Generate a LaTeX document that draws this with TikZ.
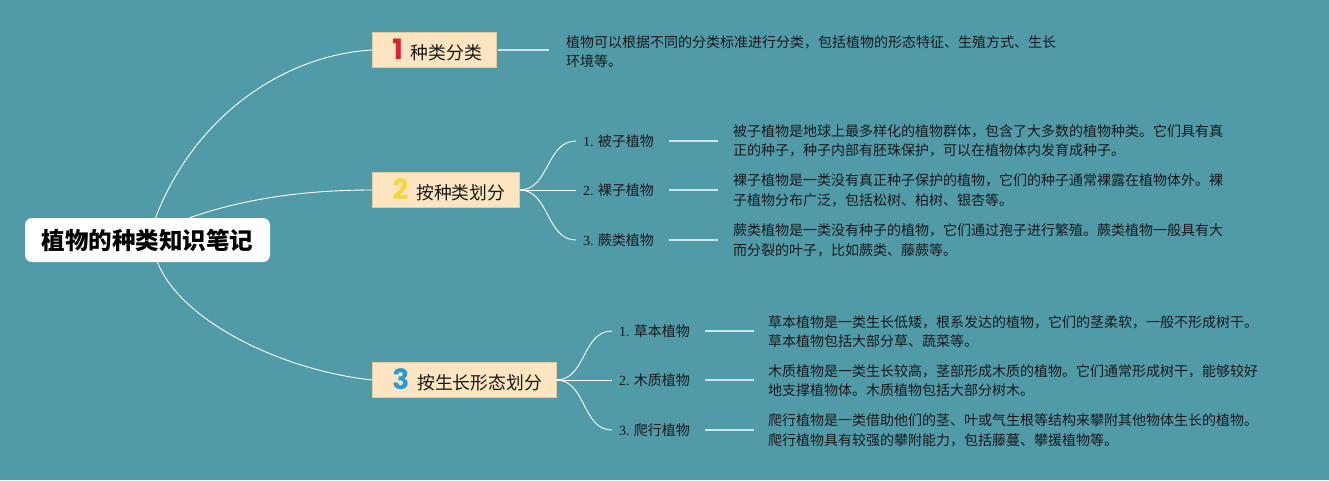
\documentclass[tikz,border=0pt]{standalone}
\usepackage{fontspec}
\setmainfont{Noto Sans CJK SC}
\newfontfamily\numfont{Liberation Serif}
\newfontfamily\digitfont{Poppins}
\usetikzlibrary{positioning, calc}
\definecolor{bg}{RGB}{81,155,169}
\definecolor{box}{RGB}{252,229,192}
\definecolor{boxline}{RGB}{228,203,158}
\definecolor{lead}{RGB}{205,230,236}
\definecolor{ink}{RGB}{25,25,25}
\definecolor{num-1}{RGB}{226,32,44}
\definecolor{num-2}{RGB}{245,215,60}
\definecolor{num-3}{RGB}{40,155,220}
\newcommand{\topiclabel}[3]{\hspace*{20pt}{\digitfont\bfseries\fontsize{28}{28}\selectfont\textcolor{#1}{#2}}\hspace{8pt}#3\hspace*{14pt}}

\begin{document}
\begin{tikzpicture}[x=1pt, y=-1pt]
      \tikzset{ root/.style ={fill=white, rounded corners=7pt, minimum width=245pt, minimum height=44pt, text=black, font=\fontsize{23.5}{23.5}\selectfont\bfseries} }
      \tikzset{ topic/.style={fill=box, draw=boxline, line width=0.6pt, anchor=west, minimum height=35pt, inner xsep=0pt, text=ink, font=\fontsize{17.8}{17.8}\selectfont} }
      \tikzset{ item/.style ={anchor=west, inner xsep=7pt, text=ink, font=\fontsize{14}{14}\selectfont} }
      \tikzset{ note/.style ={anchor=west, inner xsep=7pt, align=left, text=ink, font=\fontsize{14}{19.5}\selectfont} }
      \tikzset{ link/.style ={draw=white, line width=0.9pt} }
      \tikzset{ lead/.style ={draw=lead, line width=1.6pt} }

      \fill[bg] (0,0) rectangle (1329,480);
      \useasboundingbox (0,0) rectangle (1329,480);

      \node[root] (l0_n0) at (147.5, 240) {植物的种类知识笔记};

      \node[topic] (l1_n0) at (372,  50) {\topiclabel{num-1}{1}{种类分类}};
      \node[topic] (l1_n1) at (372, 190) {\topiclabel{num-2}{2}{按种类划分}};
      \node[topic] (l1_n2) at (372, 380) {\topiclabel{num-3}{3}{按生长形态划分}};

      \draw[link] ($(l0_n0.north)+(8,0)$)  .. controls (195,115) and (285,55)  .. (l1_n0.west);
      \draw[link] ($(l0_n0.north)+(42,0)$) .. controls (240,200) and (300,190) .. (l1_n1.west);
      \draw[link] ($(l0_n0.south)+(10,0)$) .. controls (180,320) and (280,370) .. (l1_n2.west);

      \node[note] (l3_n0) at (559, 51.5) {植物可以根据不同的分类标准进行分类，包括植物的形态特征、生殖方式、生长\\环境等。};

      \draw[lead, shorten <=2pt, shorten >=10pt] (l1_n0.east) -- (l1_n0.east -| l3_n0.west);

      \node[item] (l2_n0) at (576, 141) {{\numfont 1.} 被子植物};
      \node[item] (l2_n1) at (576, 190) {{\numfont 2.} 裸子植物};
      \node[item] (l2_n2) at (576, 240) {{\numfont 3.} 蕨类植物};

      \draw[link] (l1_n1.east) .. controls +(30,0) and +(-30,0) .. (l2_n0.west);
      \draw[link] (l1_n1.east) -- (l2_n1.west);
      \draw[link] (l1_n1.east) .. controls +(30,0) and +(-30,0) .. (l2_n2.west);

      \node[note] (l3_n1) at (726, 141.0) {被子植物是地球上最多样化的植物群体，包含了大多数的植物种类。它们具有真\\正的种子，种子内部有胚珠保护，可以在植物体内发育成种子。};
      \node[note] (l3_n2) at (726, 190.5) {裸子植物是一类没有真正种子保护的植物，它们的种子通常裸露在植物体外。裸\\子植物分布广泛，包括松树、柏树、银杏等。};
      \node[note] (l3_n3) at (726, 240.5) {蕨类植物是一类没有种子的植物，它们通过孢子进行繁殖。蕨类植物一般具有大\\而分裂的叶子，比如蕨类、藤蕨等。};

      \draw[lead, shorten <=8pt, shorten >=8pt] (l2_n0.east) -- (l2_n0.east -| l3_n1.west);
      \draw[lead, shorten <=8pt, shorten >=8pt] (l2_n1.east) -- (l2_n1.east -| l3_n2.west);
      \draw[lead, shorten <=8pt, shorten >=8pt] (l2_n2.east) -- (l2_n2.east -| l3_n3.west);

      \node[item] (l2_n3) at (612, 331) {{\numfont 1.} 草本植物};
      \node[item] (l2_n4) at (612, 380) {{\numfont 2.} 木质植物};
      \node[item] (l2_n5) at (612, 430) {{\numfont 3.} 爬行植物};

      \draw[link] (l1_n2.east) .. controls +(30,0) and +(-30,0) .. (l2_n3.west);
      \draw[link] (l1_n2.east) -- (l2_n4.west);
      \draw[link] (l1_n2.east) .. controls +(30,0) and +(-30,0) .. (l2_n5.west);

      \node[note] (l3_n4) at (761, 331.5) {草本植物是一类生长低矮，根系发达的植物，它们的茎柔软，一般不形成树干。\\草本植物包括大部分草、蔬菜等。};
      \node[note] (l3_n5) at (761, 380.5) {木质植物是一类生长较高，茎部形成木质的植物。它们通常形成树干，能够较好\\地支撑植物体。木质植物包括大部分树木。};
      \node[note] (l3_n6) at (761, 430.5) {爬行植物是一类借助他们的茎、叶或气生根等结构来攀附其他物体生长的植物。\\爬行植物具有较强的攀附能力，包括藤蔓、攀援植物等。};

      \draw[lead, shorten <=8pt, shorten >=7pt] (l2_n3.east) -- (l2_n3.east -| l3_n4.west);
      \draw[lead, shorten <=8pt, shorten >=7pt] (l2_n4.east) -- (l2_n4.east -| l3_n5.west);
      \draw[lead, shorten <=8pt, shorten >=7pt] (l2_n5.east) -- (l2_n5.east -| l3_n6.west);
\end{tikzpicture}
\end{document}
